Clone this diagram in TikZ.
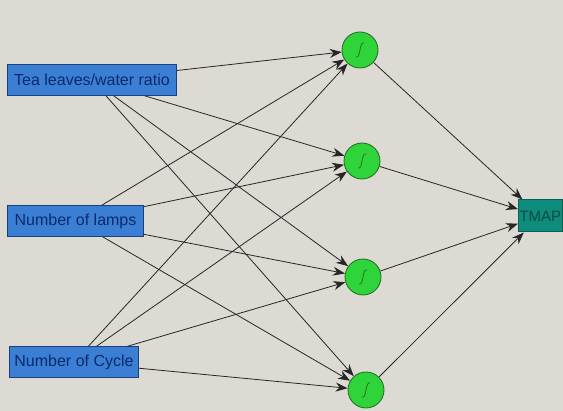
\documentclass[tikz,border=0pt]{standalone}
\usepackage{fontspec}
\setmainfont{Liberation Sans}
\usetikzlibrary{arrows.meta,calc,backgrounds}

\definecolor{paper}{HTML}{DCDAD3}
\definecolor{infill}{HTML}{3B7FD4}
\definecolor{inborder}{HTML}{1B3F7A}
\definecolor{intext}{HTML}{0B2A6B}
\definecolor{nfill}{HTML}{2FD43A}
\definecolor{nborder}{HTML}{1E6A1E}
\definecolor{outfill}{HTML}{0E8C7E}
\definecolor{outborder}{HTML}{0A5F55}
\definecolor{outtext}{HTML}{0A4A45}
\definecolor{linkc}{HTML}{262626}

\begin{document}
\begin{tikzpicture}[x=1pt,y=-1pt,
  inbox/.style={draw=inborder,fill=infill,line width=1pt,text=intext,
    font=\fontsize{16}{18}\selectfont,inner xsep=2pt,minimum height=31pt,anchor=west},
  neuron/.style={circle,draw=nborder,fill=nfill,line width=.8pt,minimum size=36pt,inner sep=0pt,
    path picture={\draw[line width=.7pt,draw=nborder]
      ($(path picture bounding box.center)+(-4pt,-7pt)$) .. controls
      ($(path picture bounding box.center)+(1pt,-9pt)$) and
      ($(path picture bounding box.center)+(-1pt,9pt)$) ..
      ($(path picture bounding box.center)+(4pt,7pt)$);}},
  link/.style={draw=linkc,line width=.8pt,-{Stealth[length=12pt,width=9pt]}}]

\useasboundingbox (0,0) rectangle (563,411);

% inputs
\node[inbox,minimum width=169pt] (tea) at (7,80) {Tea leaves/water ratio};
\node[inbox,minimum width=136pt] (lamps) at (7,221) {Number of lamps};
\node[inbox,minimum width=129pt] (cycle) at (9,362) {Number of Cycle};

% hidden layer
\foreach \x/\y [count=\i] in {360/50,362/161,363/277,366/390}
  \node[neuron] (h\i) at (\x,\y) {};

% output
\node[draw=outborder,fill=outfill,line width=1pt,text=outtext,font=\fontsize{15}{18}\selectfont,
  inner xsep=1pt,minimum height=32pt,anchor=west] (out) at (518,216) {TMAP};

\begin{pgfonlayer}{background}
\fill[paper] (0,0) rectangle (563,411);
\foreach \s in {tea,lamps,cycle}
  \foreach \i in {1,...,4}
    \draw[link] (\s.center) -- (h\i);
\foreach \i in {1,...,4}
  \draw[link] (h\i) -- (out);
\end{pgfonlayer}
\end{tikzpicture}
\end{document}
